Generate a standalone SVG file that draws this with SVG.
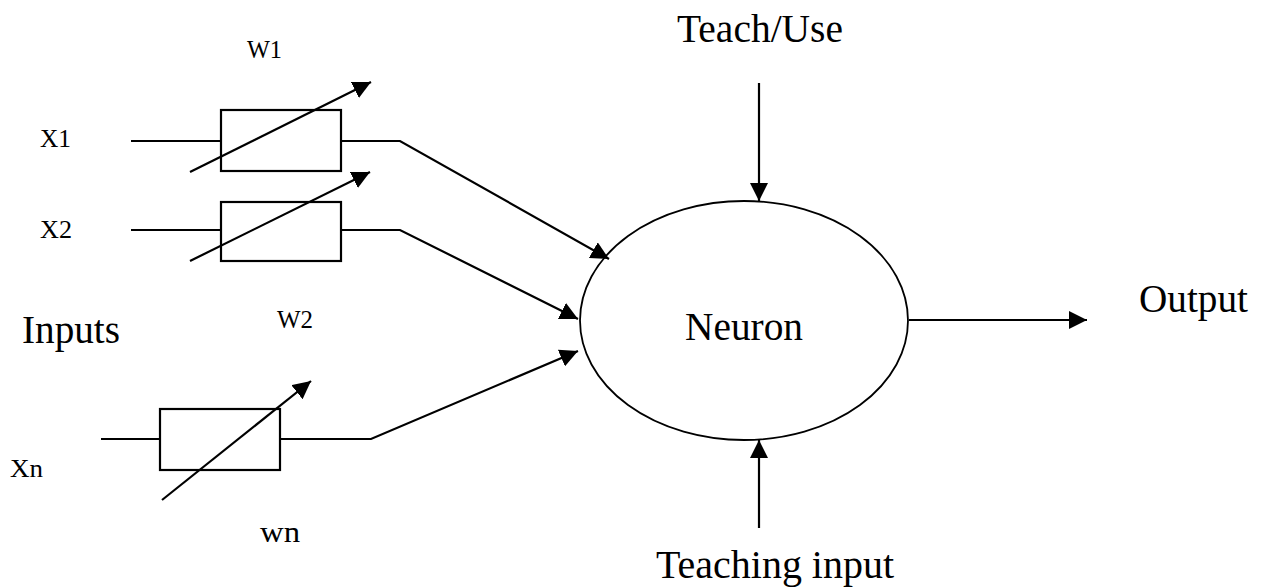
<svg xmlns="http://www.w3.org/2000/svg" width="1261" height="588" viewBox="0 0 1261 588">
  <style>
    .wire { fill: none; stroke: #000; stroke-width: 2.2; stroke-linejoin: miter; }
    .arrow { fill: none; stroke: #000; stroke-width: 2.2; marker-end: url(#head); }
    .box { fill: #fff; stroke: #000; stroke-width: 2.2; }
    .cell { fill: #fff; stroke: #000; stroke-width: 1.8; }
    .big { font-family: "Liberation Serif", "Times New Roman", serif; font-size: 39px; fill: #000; }
    .small { font-family: "Liberation Serif", "Times New Roman", serif; font-size: 25px; fill: #000; }
  </style>
  <defs>
    <marker id="head" markerUnits="userSpaceOnUse" markerWidth="18" markerHeight="18" refX="18" refY="9" orient="auto">
      <path d="M0,0 L18,9 L0,18 Z" fill="#000"/>
    </marker>
  </defs>

  <rect width="1261" height="588" fill="#fff"/>

  <!-- input weights: resistor-like boxes with adjustable arrows -->
  <g id="weight-1">
    <line class="wire" x1="131" y1="141" x2="221" y2="141"/>
    <rect class="box" x="221" y="110" width="120" height="61"/>
    <line class="arrow" x1="190" y1="172" x2="371" y2="82"/>
  </g>
  <g id="weight-2">
    <line class="wire" x1="131" y1="230" x2="221" y2="230"/>
    <rect class="box" x="221" y="202" width="120" height="59"/>
    <line class="arrow" x1="190" y1="261" x2="370" y2="172"/>
  </g>
  <g id="weight-n">
    <line class="wire" x1="101" y1="439" x2="160" y2="439"/>
    <rect class="box" x="160" y="409" width="120" height="61"/>
    <line class="arrow" x1="162" y1="500" x2="311" y2="381"/>
  </g>

  <!-- neuron body -->
  <g id="neuron">
    <ellipse class="cell" cx="744" cy="320.5" rx="164" ry="119.5"/>
    <text class="big" x="685" y="340" textLength="118" lengthAdjust="spacingAndGlyphs">Neuron</text>
  </g>

  <!-- connectors -->
  <g id="connectors">
    <polyline class="arrow" points="341,141 400,141 609,259"/>
    <polyline class="arrow" points="341,230 400,230 578,319"/>
    <polyline class="arrow" points="280,439 371,439 578,351"/>
    <line class="arrow" x1="759" y1="83" x2="759" y2="201"/>
    <line class="arrow" x1="759" y1="528" x2="759" y2="440"/>
    <line class="arrow" x1="909" y1="320" x2="1087" y2="320"/>
  </g>

  <!-- labels -->
  <g id="labels">
    <text class="small" x="40" y="147" textLength="31" lengthAdjust="spacingAndGlyphs">X1</text>
    <text class="small" x="40" y="238" textLength="32" lengthAdjust="spacingAndGlyphs">X2</text>
    <text class="small" x="10" y="477" textLength="33" lengthAdjust="spacingAndGlyphs">Xn</text>
    <text class="small" x="247" y="58" textLength="35" lengthAdjust="spacingAndGlyphs">W1</text>
    <text class="small" x="277" y="328" textLength="36" lengthAdjust="spacingAndGlyphs">W2</text>
    <text class="small" x="260" y="542" style="font-size:30px" textLength="40" lengthAdjust="spacingAndGlyphs">wn</text>
    <text class="big" x="22" y="343" textLength="98" lengthAdjust="spacingAndGlyphs">Inputs</text>
    <text class="big" x="677" y="42" textLength="166" lengthAdjust="spacingAndGlyphs">Teach/Use</text>
    <text class="big" x="656" y="578" textLength="238" lengthAdjust="spacingAndGlyphs">Teaching input</text>
    <text class="big" x="1139" y="312" textLength="109" lengthAdjust="spacingAndGlyphs">Output</text>
  </g>
</svg>
